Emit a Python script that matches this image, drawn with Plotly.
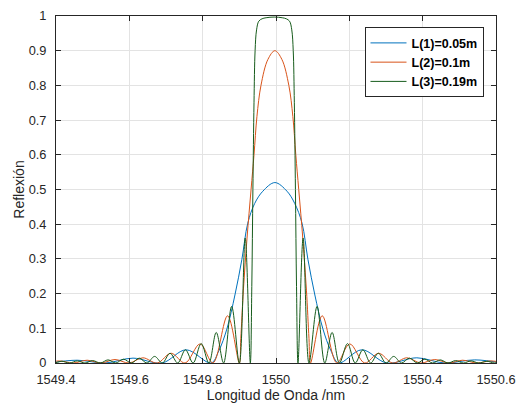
import plotly.graph_objects as go

# ---- data ----
blue_x = [1549.381, 1549.458, 1549.534, 1549.610, 1549.689, 1549.755, 1549.823, 1549.844,
          1549.866, 1549.888, 1549.907, 1549.923, 1549.942, 1549.964, 1549.997,
          1550.030, 1550.051, 1550.071, 1550.087, 1550.106, 1550.128, 1550.150, 1550.171,
          1550.234, 1550.302, 1550.384, 1550.460, 1550.542, 1550.618]
blue_y = [0, 0.008, 0, 0.014, 0, 0.038, 0, 0.035,
          0.098, 0.196, 0.299, 0.403, 0.46, 0.495, 0.52,
          0.495, 0.46, 0.403, 0.299, 0.196, 0.098, 0.035, 0,
          0.038, 0, 0.015, 0, 0.009, 0]

red_x = [1549.371, 1549.409, 1549.447, 1549.485, 1549.523, 1549.561, 1549.599, 1549.637,
         1549.676, 1549.714, 1549.752, 1549.793, 1549.828, 1549.868, 1549.900, 1549.904,
         1549.911, 1549.921, 1549.932, 1549.940, 1549.948, 1549.959, 1549.978, 1549.997,
         1550.016, 1550.035, 1550.046, 1550.054, 1550.062, 1550.073, 1550.083, 1550.090,
         1550.094, 1550.126, 1550.166, 1550.201, 1550.242, 1550.280, 1550.318, 1550.357,
         1550.395, 1550.433, 1550.471, 1550.509, 1550.547, 1550.586, 1550.624]
red_y = [0, 0.006, 0, 0.008, 0, 0.010, 0, 0.015,
         0, 0.028, 0, 0.055, 0, 0.136, 0, 0.07,
         0.21, 0.36, 0.50, 0.60, 0.71, 0.80, 0.875, 0.90,
         0.875, 0.80, 0.71, 0.60, 0.50, 0.36, 0.21, 0.07,
         0, 0.136, 0, 0.055, 0, 0.028, 0, 0.015,
         0, 0.010, 0, 0.008, 0, 0.006, 0]

green_x = [1549.352, 1549.373, 1549.394, 1549.416, 1549.437, 1549.458, 1549.479, 1549.500,
           1549.521, 1549.542, 1549.563, 1549.584, 1549.606, 1549.627, 1549.648, 1549.669,
           1549.690, 1549.711, 1549.732, 1549.753, 1549.774, 1549.796, 1549.817, 1549.837,
           1549.857, 1549.879, 1549.900, 1549.916, 1549.930, 1549.934, 1549.937, 1549.940,
           1549.943, 1549.947, 1549.953, 1549.962, 1549.973, 1549.995,
           1550.017, 1550.028, 1550.037, 1550.043, 1550.047, 1550.050, 1550.053, 1550.056,
           1550.060, 1550.074, 1550.090, 1550.112, 1550.133, 1550.153, 1550.173, 1550.195,
           1550.216, 1550.237, 1550.258, 1550.279, 1550.300, 1550.321, 1550.342, 1550.364,
           1550.385, 1550.406, 1550.427, 1550.448, 1550.469, 1550.490, 1550.511, 1550.532,
           1550.553, 1550.575, 1550.596, 1550.617, 1550.638]
green_y = [0, 0.004, 0, 0.005, 0, 0.006, 0, 0.007,
           0, 0.009, 0, 0.011, 0, 0.014, 0, 0.019,
           0, 0.028, 0, 0.038, 0, 0.056, 0, 0.088,
           0, 0.163, 0, 0.36, 0, 0.22, 0.50, 0.75,
           0.90, 0.96, 0.985, 0.992, 0.995, 0.997,
           0.995, 0.992, 0.985, 0.96, 0.90, 0.75, 0.50, 0.22,
           0, 0.36, 0, 0.163, 0, 0.088, 0, 0.056,
           0, 0.038, 0, 0.028, 0, 0.019, 0, 0.014,
           0, 0.011, 0, 0.009, 0, 0.007, 0, 0.006,
           0, 0.005, 0, 0.004, 0]

series_names = ["L(1)=0.05m", "L(2)=0.1m", "L(3)=0.19m"]
series_colors = ["#0072BD", "#D95319", "#175C1C"]

x_ticks = [1549.4, 1549.6, 1549.8, 1550.0, 1550.2, 1550.4, 1550.6]
x_ticktext = ["1549.4", "1549.6", "1549.8", "1550", "1550.2", "1550.4", "1550.6"]
y_ticks = [0, 0.1, 0.2, 0.3, 0.4, 0.5, 0.6, 0.7, 0.8, 0.9, 1.0]
y_ticktext = ["0", "0.1", "0.2", "0.3", "0.4", "0.5", "0.6", "0.7", "0.8", "0.9", "1"]

FONT = "Liberation Sans, Arial, Helvetica"

fig = go.Figure()
for xs, ys, nm, col in [(blue_x, blue_y, series_names[0], series_colors[0]),
                        (red_x, red_y, series_names[1], series_colors[1]),
                        (green_x, green_y, series_names[2], series_colors[2])]:
    fig.add_trace(go.Scatter(x=xs, y=ys, mode="lines", name="<b>" + nm + "</b>",
                             line=dict(color=col, width=1, shape="spline", smoothing=1)))

axis_common = dict(showgrid=True, gridcolor="#e3e3e3", gridwidth=1,
                   showline=True, linecolor="#262626", linewidth=1, mirror="ticks",
                   ticks="inside", ticklen=5, tickcolor="#262626", zeroline=False,
                   automargin=False,
                   tickfont=dict(family=FONT, size=12.8, color="#262626"))

fig.update_xaxes(range=[1549.4, 1550.6], tickvals=x_ticks, ticktext=x_ticktext,
                 ticklabelstandoff=5,
                 title=dict(text="Longitud de Onda /nm", standoff=2,
                            font=dict(family=FONT, size=14, color="#262626")),
                 **axis_common)
fig.update_yaxes(range=[0, 1], tickvals=y_ticks, ticktext=y_ticktext,
                 ticklabelstandoff=6,
                 title=dict(text="Reflexión", standoff=0,
                            font=dict(family=FONT, size=14, color="#262626")),
                 **axis_common)

fig.update_layout(
    width=518, height=405,
    margin=dict(l=56, r=21.5, t=15.7, b=41.7),
    paper_bgcolor="white", plot_bgcolor="white",
    legend=dict(x=0.9716, y=0.9675, xanchor="right", yanchor="top",
                bgcolor="white", bordercolor="#262626", borderwidth=1,
                font=dict(family=FONT, size=12.5, color="#000000"),
                tracegroupgap=0, itemwidth=36),
    showlegend=True,
)

fig.write_html("out.html")
